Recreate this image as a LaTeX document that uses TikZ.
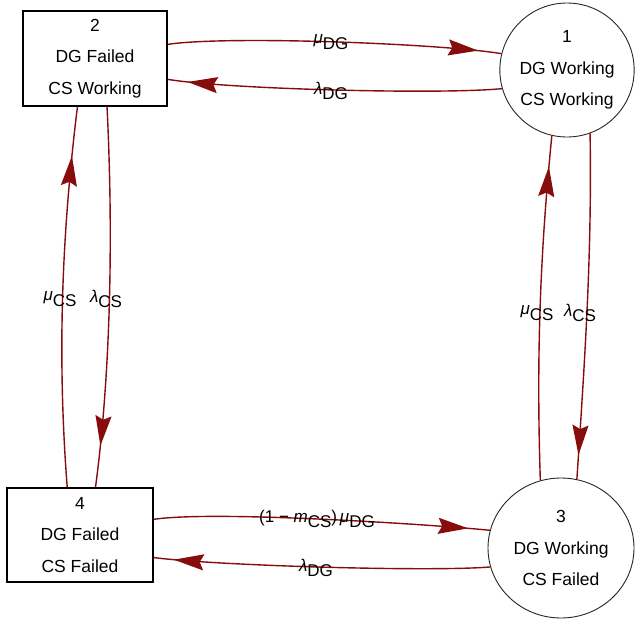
\documentclass[tikz,border=0pt]{standalone}
\usepackage{fontspec}
\setmainfont{Liberation Sans}
\usetikzlibrary{arrows.meta,decorations.markings,shapes.geometric}
\definecolor{flowred}{RGB}{135,12,12}
% a rate symbol followed by its lowered, full-size index
\newcommand\sublab[2]{#1\raisebox{-0.32em}{#2}}
\tikzset{
  statebox/.style={draw=black, line width=1.4pt, fill=white, rectangle,
    minimum width=#1, align=center, inner sep=0pt,
    font=\fontsize{17.5}{31.5}\selectfont},
  stateoval/.style={draw=black!85, line width=0.9pt, fill=white, ellipse,
    inner sep=0pt, align=center, font=\fontsize{17.5}{31.5}\selectfont},
  flow/.style={draw=flowred, line width=1.4pt,
    decoration={markings, mark=at position #1 with
      {\arrow{Stealth[length=30pt,width=16pt,inset=4pt,flowred]}}},
    postaction=decorate},
  rate/.style={font=\fontsize{17}{20}\selectfont, inner sep=0pt}
}
\begin{document}
\begin{tikzpicture}[x=1pt,y=-1pt]
\useasboundingbox (0,0) rectangle (635,624);

% states
\node[statebox=144pt, minimum height=95pt] (s2) at (95,58.5) {2\\DG Failed\\CS Working};
\node[statebox=146pt, minimum height=94pt] (s4) at (80,535) {4\\DG Failed\\CS Failed};
\node[stateoval, minimum width=134pt, minimum height=134pt] (s1) at (567,70) {1\\DG Working\\CS Working};
\node[stateoval, minimum width=146pt, minimum height=140pt] (s3) at (561,548) {3\\DG Working\\CS Failed};

% transitions along the top
\draw[flow=0.93] (s2.11) .. controls +(60,-9) and +(-60,-10) .. (s1.166);
\draw[flow=0.94] (s1.196) .. controls +(-60,6) and +(60,10) .. (s2.-16);

% transitions along the left side
\draw[flow=0.87] (s4.105) .. controls +(-10,-130) and +(-16,130) .. (s2.-110);
\draw[flow=0.89] (s2.-76) .. controls +(6,120) and +(16,-120) .. (s4.72);

% transitions along the right side
\draw[flow=0.91] (s3.107) .. controls +(-4,-120) and +(-12,120) .. (s1.-103);
\draw[flow=0.93] (s1.-70) .. controls +(2,120) and +(8,-120) .. (s3.77);

% transitions along the bottom
\draw[flow=0.935] (s4.12) .. controls +(60,-9) and +(-60,-6) .. (s3.166);
\draw[flow=0.94] (s3.-165) .. controls +(-60,5) and +(60,8) .. (s4.-17);

% rates
\node[rate] (r21) at (331,42) {\sublab{\textit{μ}}{DG}};
\node[rate] (r12) at (331,91) {\sublab{\textit{λ}}{DG}};
\node[rate] (r42) at (60,299) {\sublab{\textit{μ}}{CS}};
\node[rate] (r24) at (106,299) {\sublab{\textit{λ}}{CS}};
\node[rate] (r31) at (537,313) {\sublab{\textit{μ}}{CS}};
\node[rate] (r13) at (580,313) {\sublab{\textit{λ}}{CS}};
\node[rate] (r43) at (317,519) {(1\;−\;\sublab{\textit{m}}{CS})\,\sublab{\textit{μ}}{DG}};
\node[rate] (r34) at (316,568) {\sublab{\textit{λ}}{DG}};
\end{tikzpicture}
\end{document}
